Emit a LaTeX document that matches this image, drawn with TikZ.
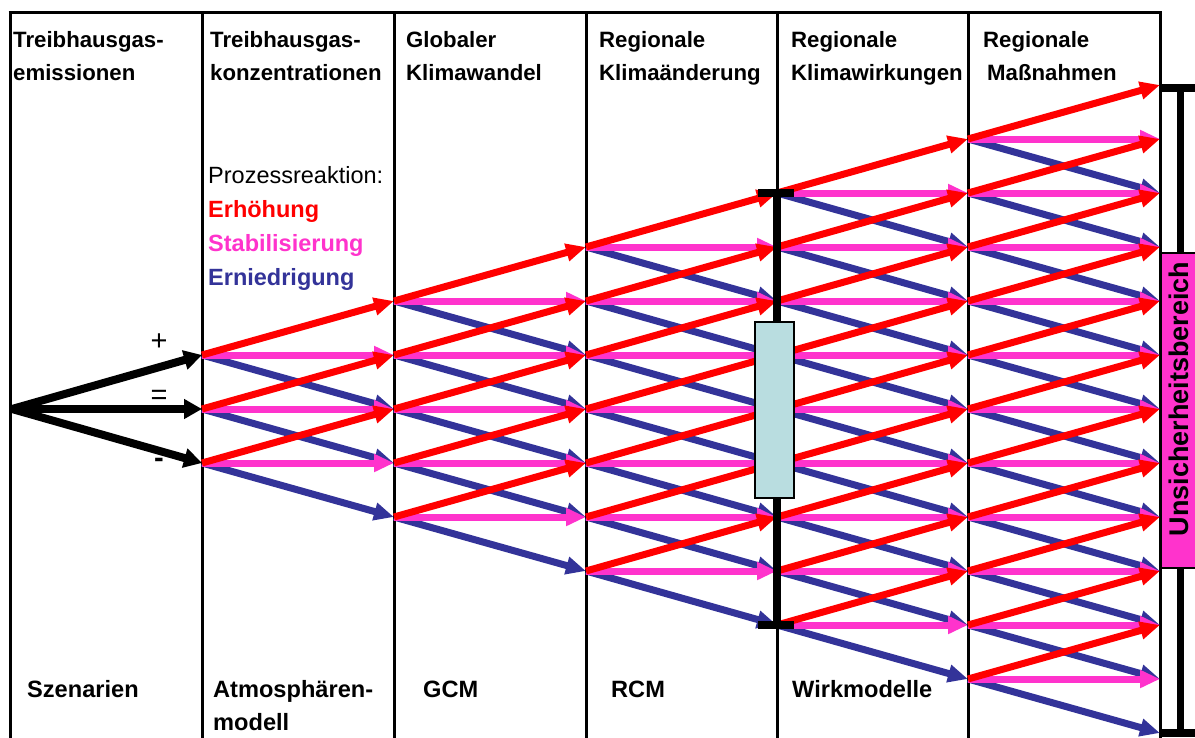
\documentclass[tikz,border=0pt]{standalone}
\usepackage{fontspec}
\setmainfont{Liberation Sans}
\usetikzlibrary{arrows.meta}
\definecolor{cred}{HTML}{FF0000}
\definecolor{cpink}{HTML}{FF33CC}
\definecolor{cblue}{HTML}{333399}
\definecolor{cbox}{HTML}{B9DDE0}
\begin{document}
\begin{tikzpicture}[x=1pt,y=-1pt,
  frame/.style={line width=3pt},
  arr/.style={line width=7pt,-{Triangle[length=20pt,width=17pt]}},
  uparr/.style={arr,cred},
  flatarr/.style={arr,cpink},
  downarr/.style={arr,cblue},
  blkarr/.style={line width=8pt,black,-{Triangle[length=18pt,width=19pt]}},
  head/.style={font=\bfseries\fontsize{22.2}{26}\selectfont,anchor=base west,inner sep=0pt},
  foot/.style={font=\bfseries\fontsize{23.6}{27}\selectfont,anchor=base west,inner sep=0pt},
  leg/.style={font=\bfseries\fontsize{23.5}{28}\selectfont,anchor=base west,inner sep=0pt},
  legn/.style={font=\fontsize{23.5}{28}\selectfont,anchor=base west,inner sep=0pt},
  sign/.style={font=\fontsize{29}{34}\selectfont,inner sep=0pt},
  bar/.style={line width=8pt,black}]
\useasboundingbox (0,0) rectangle (1195,737);
\fill[white] (0,0) rectangle (1195,737);

% frame
\draw[frame] (8.5,12) -- (1161.5,12);
\foreach \x in {10,202,394,586,777,968,1160} {
  \draw[frame] (\x,12) -- (\x,740);
}

% grid points
\coordinate (o) at (12,409);
\foreach \k/\x in {1/202,2/394,3/586,4/777,5/968,6/1160} {
  \pgfmathtruncatemacro\lo{6-\k}
  \pgfmathtruncatemacro\hi{6+\k}
  \foreach \i in {\lo,...,\hi} {
    \coordinate (p\k-\i) at (\x,{409+54*(\i-6)});
  }
}

% scenario arrows
\draw[blkarr] (o) -- (p1-5);
\draw[blkarr] (o) -- (p1-6);
\draw[blkarr] (o) -- (p1-7);

% process arrows
\foreach \k in {1,...,5} {
  \pgfmathtruncatemacro\n{\k+1}
  \pgfmathtruncatemacro\lo{6-\k}
  \pgfmathtruncatemacro\hi{6+\k}
  \foreach \i in {\lo,...,\hi} {
    \pgfmathtruncatemacro\u{\i-1}
    \pgfmathtruncatemacro\d{\i+1}
    \draw[downarr] (p\k-\i) -- (p\n-\d);
    \draw[flatarr] (p\k-\i) -- (p\n-\i);
    \draw[uparr] (p\k-\i) -- (p\n-\u);
  }
}

% uncertainty bar at Klimawirkungen
\draw[bar] (p4-2) -- (p4-10);
\draw[bar] ([xshift=-19pt]p4-2) -- ([xshift=17pt]p4-2);
\draw[bar] ([xshift=-19pt]p4-10) -- ([xshift=17pt]p4-10);
\node[draw,fill=cbox,line width=2pt,minimum width=39pt,minimum height=176pt,inner sep=0pt] (ubox) at (774.5,410) {};

% right bracket
\draw[line width=7pt] (1180,85) -- (1180,733);
\draw[bar] (1162,88) -- (1197,88);
\draw[bar] (1162,733) -- (1197,733);
\draw[fill=cpink,line width=2pt] (1161,253) rectangle (1198,568);
\node[font=\bfseries\fontsize{27}{30}\selectfont,rotate=90,anchor=base,inner sep=0pt] (unc) at (1188,399) {Unsicherheitsbereich};

% headings
\node[head] (h1a) at (13,47) {Treibhausgas-};
\node[head] (h1b) at (13,80) {emissionen};
\node[head] (h2a) at (210,47) {Treibhausgas-};
\node[head] (h2b) at (210,80) {konzentrationen};
\node[head] (h3a) at (406,47) {Globaler};
\node[head] (h3b) at (406,80) {Klimawandel};
\node[head] (h4a) at (599,47) {Regionale};
\node[head] (h4b) at (599,80) {Klimaänderung};
\node[head] (h5a) at (791,47) {Regionale};
\node[head] (h5b) at (791,80) {Klimawirkungen};
\node[head] (h6a) at (983,47) {Regionale};
\node[head] (h6b) at (987,80) {Maßnahmen};

% legend
\node[legn] (lg0) at (208,183) {Prozessreaktion:};
\node[leg,text=cred] (lg1) at (208,217) {Erhöhung};
\node[leg,text=cpink] (lg2) at (208,251) {Stabilisierung};
\node[leg,text=cblue] (lg3) at (208,285) {Erniedrigung};

% signs
\node[sign] (splus) at (159,342) {+};
\node[sign] (seq) at (159,397) {=};
\node[sign,font=\bfseries\fontsize{29}{34}\selectfont] (smin) at (159,463) {-};

% footers
\node[foot] (f1) at (27,697) {Szenarien};
\node[foot] (f2a) at (213,697) {Atmosphären-};
\node[foot] (f2b) at (213,730) {modell};
\node[foot] (f3) at (423,697) {GCM};
\node[foot] (f4) at (611,697) {RCM};
\node[foot] (f5) at (792,697) {Wirkmodelle};
\end{tikzpicture}
\end{document}
